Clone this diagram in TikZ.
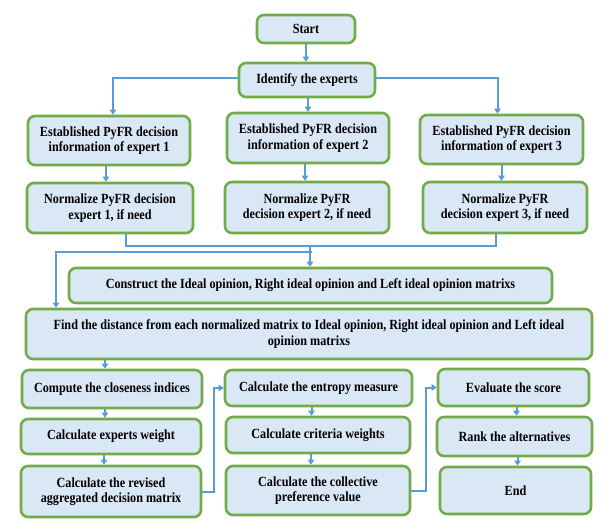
\documentclass[tikz,border=0pt]{standalone}
\usepackage{fontspec}
\setmainfont{Liberation Serif}[FakeStretch=0.87]
\usetikzlibrary{arrows.meta}
\definecolor{boxfill}{HTML}{DAE7F5}
\definecolor{boxedge}{HTML}{70AD47}
\definecolor{linkblue}{HTML}{5B9BD5}
\tikzset{
  box/.style={draw=boxedge, line width=2.6pt, fill=boxfill, rounded corners=7pt,
    inner sep=0pt, align=center, font=\fontsize{14}{15.5}\selectfont\bfseries},
  conn/.style={draw=linkblue, line width=2pt},
  arr/.style={conn, -{Triangle[width=6.5pt,length=5pt]}}
}
\begin{document}
\begin{tikzpicture}[x=1pt,y=-1pt]
\useasboundingbox[fill=white] (0,0) rectangle (616,532);
% boxes
\node[box, minimum width=98, minimum height=28] (start) at (306,29) {Start};
\node[box, minimum width=136, minimum height=34] (ident) at (307,80) {Identify the experts};
\node[box, minimum width=162, minimum height=49] (e1) at (109,140.5) {Established PyFR decision\\information of expert 1};
\node[box, minimum width=162, minimum height=50] (e2) at (308,138) {Established PyFR decision\\information of expert 2};
\node[box, minimum width=163, minimum height=49] (e3) at (501.5,139.5) {Established PyFR decision\\information of expert 3};
\node[box, minimum width=166, minimum height=50] (n1) at (110,208) {Normalize PyFR decision\\expert 1, if need};
\node[box, minimum width=164, minimum height=51] (n2) at (307,207.5) {Normalize PyFR\\decision expert 2, if need};
\node[box, minimum width=164, minimum height=51] (n3) at (505,207.5) {Normalize PyFR\\decision expert 3, if need};
\node[box, minimum width=483, minimum height=35] (cons) at (310.5,285.5) {Construct the Ideal opinion, Right ideal opinion and Left ideal opinion matrixs};
\node[box, minimum width=566, minimum height=50] (find) at (309,334) {Find the distance from each normalized matrix to Ideal opinion, Right ideal opinion and Left ideal\\opinion matrixs};
\node[box, minimum width=180, minimum height=38] (comp) at (112,389) {Compute the closeness indices};
\node[box, minimum width=180, minimum height=35] (ew) at (111,436.5) {Calculate experts weight};
\node[box, minimum width=180, minimum height=51] (rev) at (111,491.5) {Calculate the revised\\aggregated decision matrix};
\node[box, minimum width=187, minimum height=36] (ent) at (318.5,388) {Calculate the entropy measure};
\node[box, minimum width=184, minimum height=36] (crit) at (318,435) {Calculate criteria weights};
\node[box, minimum width=184, minimum height=49] (coll) at (318,490.5) {Calculate the collective\\preference value};
\node[box, minimum width=151, minimum height=37] (eval) at (513.5,387.5) {Evaluate the score};
\node[box, minimum width=155, minimum height=39] (rank) at (514.5,436.5) {Rank the alternatives};
\node[box, minimum width=151, minimum height=47] (end) at (515.5,490.5) {End};
% connectors
\draw[arr] (start.south) -- (start.south |- ident.north);
\draw[arr] ([yshift=2]ident.west) -| ([xshift=4]e1.north);
\draw[arr] ([yshift=2]ident.east) -| ([xshift=-4]e3.north);
\draw[arr] (ident.south -| e2.north) -- (e2.north);
\draw[arr] ([xshift=-3]e1.south) -- ([xshift=-3]e1.south |- n1.north);
\draw[arr] ([xshift=-3]e2.south) -- ([xshift=-3]e2.south |- n2.north);
\draw[arr] (e3.south) -- (e3.south |- n3.north);
\coordinate (j) at (310,246);
\coordinate (k) at (56,252);
\draw[conn] ([xshift=16]n1.south) |- (j) -| ([xshift=-9]n3.south);
\draw[arr] (j) -- (j |- cons.north);
\draw[arr] ([xshift=2]j |- k) -- (k) -- (k |- find.north);
\draw[arr] ([xshift=-7]comp.north |- find.south) -- ([xshift=-7]comp.north);
\draw[arr] ([xshift=-7]comp.south) -- ([xshift=-7]comp.south |- ew.north);
\draw[arr] ([xshift=-7]ew.south) -- ([xshift=-7]ew.south |- rev.north);
\draw[arr] (rev.east) -- ++(12,0) |- (ent.west);
\draw[arr] ([xshift=-7]ent.south) -- ([xshift=-7]ent.south |- crit.north);
\draw[arr] ([xshift=-7]crit.south) -- ([xshift=-7]crit.south |- coll.north);
\draw[arr] (coll.east) -- ++(15,0) |- (eval.west);
\draw[arr] ([xshift=3]eval.south) -- ([xshift=3]eval.south |- rank.north);
\draw[arr] ([xshift=3]rank.south) -- ([xshift=3]rank.south |- end.north);
\end{tikzpicture}
\end{document}
